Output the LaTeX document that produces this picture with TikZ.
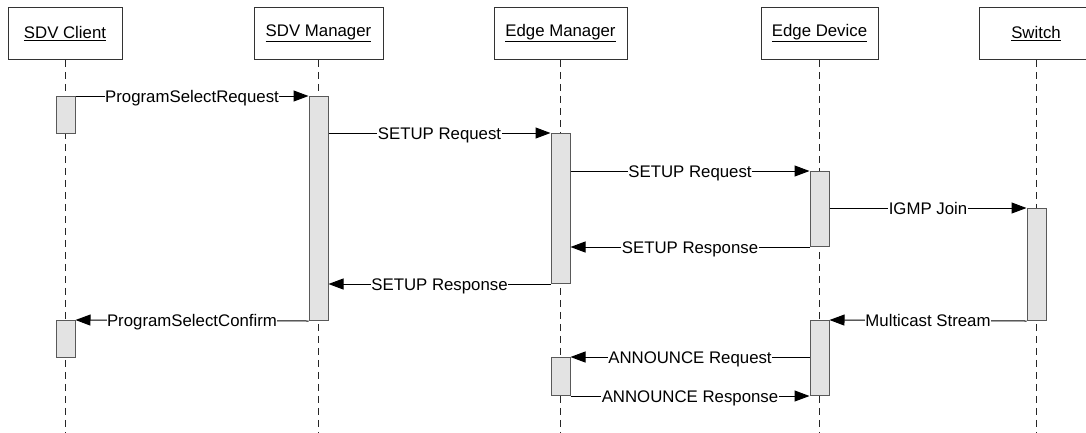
\documentclass[tikz,border=0pt]{standalone}
\usepackage{fontspec}
\setmainfont{Liberation Sans}
\usetikzlibrary{arrows.meta}
\begin{document}
\begin{tikzpicture}[x=1pt,y=-1pt,
  font=\fontsize{16.8}{20}\selectfont,
  head/.style={draw=black!80, line width=0.9pt, fill=white, minimum height=52pt, inner sep=0pt, anchor=north},
  bar/.style={draw=black!65, line width=1pt, fill=black!11, minimum width=19pt, inner sep=0pt, anchor=north},
  life/.style={draw=black!85, line width=0.8pt, dash pattern=on 7pt off 5pt},
  msg/.style={draw=black, line width=1pt, -{Triangle[length=15pt,width=11pt]}},
  lbl/.style={fill=white, inner xsep=0.5pt, inner ysep=2pt, text height=12pt, text depth=0pt}]
\useasboundingbox (0,0) rectangle (1086,432);
% headers
\node[head, minimum width=114pt] (hc) at (65,7) {\underline{SDV Client}};
\node[head, minimum width=129pt] (hm) at (318.5,7) {\underline{SDV Manager}};
\node[head, minimum width=133pt] (he) at (560.5,7) {\underline{Edge Manager}};
\node[head, minimum width=117pt] (hd) at (819.5,7) {\underline{Edge Device}};
\node[head, minimum width=114pt] (hs) at (1036,7) {\underline{Switch}};
% lifelines
\foreach \h in {hc,hm,he,hd,hs}
  \draw[life] (\h.south) -- (\h.south |- 0,432);
% activation bars
\node[bar, minimum height=37pt]  (c1) at (65.5,96) {};
\node[bar, minimum height=224pt] (m1) at (318.5,96) {};
\node[bar, minimum height=150pt] (e1) at (560.5,133) {};
\node[bar, minimum height=75pt]  (d1) at (819.5,171) {};
\node[bar, minimum height=112pt] (s1) at (1036.5,208) {};
\node[bar, minimum height=37pt]  (c2) at (65.5,320) {};
\node[bar, minimum height=75pt]  (d2) at (819.5,320) {};
\node[bar, minimum height=38pt]  (e2) at (560.5,357) {};
% messages
\draw[msg] (c1.north east) -- node[lbl]{ProgramSelectRequest} (m1.north west);
\draw[msg] (m1.east |- e1.north) -- node[lbl]{SETUP Request} (e1.north west);
\draw[msg] (e1.east |- d1.north) -- node[lbl]{SETUP Request} (d1.north west);
\draw[msg] (d1.east |- s1.north) -- node[lbl]{IGMP Join} (s1.north west);
\draw[msg] (d1.south west) -- node[lbl]{SETUP Response} (e1.east |- d1.south);
\draw[msg] (e1.south west) -- node[lbl]{SETUP Response} (m1.east |- e1.south);
\draw[msg] (m1.south west) -- node[lbl]{ProgramSelectConfirm} (c2.north east);
\draw[msg] (s1.south west) -- node[lbl]{Multicast Stream} (d2.north east);
\draw[msg] (d2.west |- e2.north) -- node[lbl]{ANNOUNCE Request} (e2.north east);
\draw[msg] (e2.south east) -- node[lbl]{ANNOUNCE Response} (d2.south west);
\end{tikzpicture}
\end{document}
